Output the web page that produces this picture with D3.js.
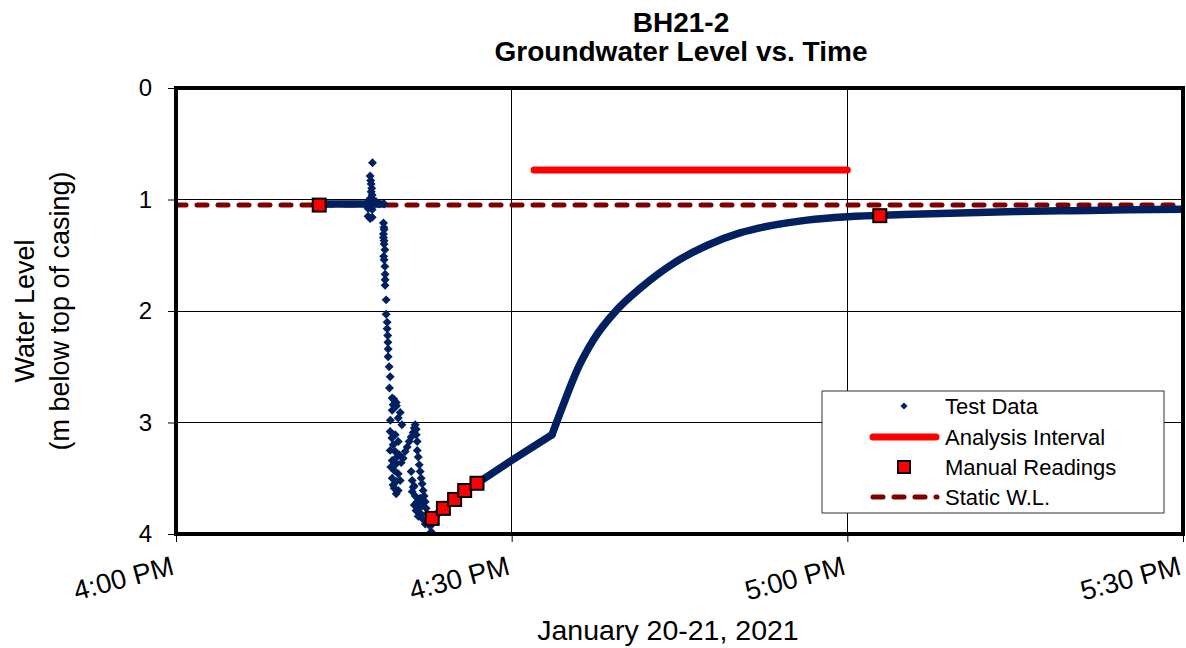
<!DOCTYPE html>
<html>
<head>
<meta charset="utf-8">
<script src="https://cdn.jsdelivr.net/npm/d3@7"></script>
<style>
  html, body { margin: 0; padding: 0; background: #fff; }
  svg { display: block; font-family: "Liberation Sans", Arial, sans-serif; }
</style>
</head>
<body>
<svg id="chart" width="1186" height="648"></svg>
<script>
// ---------------- DATA (minutes after 4:00 PM, water level in m below top of casing) ----------------
const chartTitle = ["BH21-2", "Groundwater Level vs. Time"];
const xAxisTitle = "January 20-21, 2021";
const yAxisTitle = ["Water Level", "(m below top of casing)"];
const yTicks = [0, 1, 2, 3, 4];
const xTickMinutes = [0, 30, 60, 90];

// Test Data: scattered logger readings during the pumping / disturbance phase
const testMinutes = [
  17.56,17.35,17.40,17.44,17.49,17.44,17.53,17.35,17.62,17.17,17.89,16.99,18.16,17.17,17.53,17.17,17.35,17.53,18.60,
  18.54,18.58,18.60,18.54,18.54,18.60,18.60,18.67,18.56,18.60,18.67,18.69,18.69,18.69,18.78,18.78,18.87,18.87,18.92,18.94,18.96,18.96,19.05,19.14,19.08,
  19.32,19.50,19.68,19.41,19.59,19.32,20.04,19.86,19.16,20.19,19.14,19.45,19.70,
  19.29,19.59,19.41,19.86,19.14,19.59,19.95,19.32,19.68,20.13,19.50,19.86,19.32,19.68,20.04,19.50,19.86,19.68,19.20,19.40,19.75,
  20.30,20.48,20.66,20.84,21.02,21.20,21.29,21.38,21.47,
  21.47,21.56,21.56,21.65,21.74,21.82,21.91,22.00,22.09,22.18,22.27,22.36,22.45,22.63,22.72,22.81,
  21.02,21.11,21.29,21.11,21.38,21.56,21.29,21.74,21.91,21.65,22.09,22.27,21.82,21.20,21.45,22.00
];
const testLevels = [
  0.67,0.79,0.83,0.86,0.90,0.93,0.96,0.99,1.00,1.02,1.02,1.05,1.04,1.08,1.09,1.15,1.17,1.16,1.04,
  1.21,1.25,1.27,1.31,1.34,1.37,1.40,1.45,1.51,1.54,1.60,1.67,1.72,1.77,1.90,2.03,2.10,2.16,2.22,2.28,2.34,2.41,2.50,2.59,2.69,
  2.78,2.80,2.82,2.84,2.86,2.89,2.91,2.96,2.98,3.02,3.08,2.79,2.85,
  3.14,3.11,3.20,3.17,3.25,3.26,3.29,3.34,3.37,3.36,3.43,3.46,3.50,3.53,3.52,3.59,3.61,3.64,3.40,3.56,3.31,
  3.32,3.26,3.22,3.17,3.13,3.09,3.05,3.02,3.06,
  3.11,3.17,3.25,3.31,3.38,3.44,3.50,3.55,3.61,3.66,3.71,3.77,3.82,3.87,3.93,3.98,
  3.44,3.52,3.57,3.62,3.66,3.71,3.74,3.77,3.82,3.84,3.87,3.91,3.68,3.58,3.79,3.74
];

// Test Data: dense logger traces (readings so close together they form a solid band)
const staticTraceMinutes = [12.8, 15.0, 17.0, 18.7];
const staticTraceLevels  = [1.04, 1.04, 1.04, 1.04];
const drawdownMinutes = [22.9, 23.9, 24.9, 25.8, 26.9, 30.0, 33.6];
const drawdownLevels  = [3.86, 3.77, 3.69, 3.61, 3.545, 3.34, 3.11];
const recoveryMinutes = [33.6, 34.65, 35.85, 37.3, 39.4, 41.5, 44.5, 47.5, 50.4, 53.4, 56.4, 60.0, 65.0, 70.0, 75.0, 80.0, 85.0, 90.0];
const recoveryLevels  = [3.11, 2.83, 2.53, 2.26, 1.99, 1.795, 1.57, 1.41, 1.30, 1.23, 1.185, 1.155, 1.135, 1.12, 1.108, 1.10, 1.093, 1.088];

// Manual Readings
const manualMinutes = [12.8, 22.9, 23.9, 24.9, 25.8, 26.9, 62.9];
const manualLevels  = [1.05, 3.86, 3.77, 3.69, 3.61, 3.545, 1.145];

// Analysis Interval
const analysisMinutes = [32.0, 60.0];
const analysisLevel = 0.735;

// Static W.L.
const staticLevel = 1.05;

const legendLabels = ["Test Data", "Analysis Interval", "Manual Readings", "Static W.L."];

// ---------------- CHART ----------------
const base = new Date(2021, 0, 20, 16, 0, 0);
const toDate = m => new Date(base.getTime() + m * 60000);

const svg = d3.select("#chart");
const L = 176, R = 1183, T = 88, B = 534;

const x = d3.scaleTime().domain([toDate(0), toDate(90)]).range([L, R]);
const y = d3.scaleLinear().domain([0, 4]).range([T, B]);

const navy = "#002060", red = "#ff0000", maroon = "#800000";

// Grid
const grid = svg.append("g");
grid.selectAll("line.h").data(yTicks.slice(1, -1)).join("line")
  .attr("x1", L).attr("x2", R).attr("y1", d => y(d)).attr("y2", d => y(d))
  .attr("stroke", "#000").attr("stroke-width", 1).attr("shape-rendering", "crispEdges");
grid.selectAll("line.v").data(xTickMinutes.slice(1, -1)).join("line")
  .attr("x1", d => x(toDate(d))).attr("x2", d => x(toDate(d))).attr("y1", T).attr("y2", B)
  .attr("stroke", "#000").attr("stroke-width", 1).attr("shape-rendering", "crispEdges");

// Clip
svg.append("clipPath").attr("id", "plotclip").append("rect")
  .attr("x", L).attr("y", T).attr("width", R - L).attr("height", B - T);
const plot = svg.append("g").attr("clip-path", "url(#plotclip)");

// Static W.L.
plot.append("line")
  .attr("x1", L).attr("x2", R).attr("y1", y(staticLevel)).attr("y2", y(staticLevel))
  .attr("stroke", maroon).attr("stroke-width", 5).attr("stroke-linecap", "round")
  .attr("stroke-dasharray", "10,11");

// Analysis interval
plot.append("line")
  .attr("x1", x(toDate(analysisMinutes[0]))).attr("x2", x(toDate(analysisMinutes[1])))
  .attr("y1", y(analysisLevel)).attr("y2", y(analysisLevel))
  .attr("stroke", red).attr("stroke-width", 7).attr("stroke-linecap", "round");

// Test data dense traces
const pairs = (a, b) => a.map((m, i) => [m, b[i]]);
const lineLin = d3.line().x(d => x(toDate(d[0]))).y(d => y(d[1]));
const lineSmooth = d3.line().x(d => x(toDate(d[0]))).y(d => y(d[1])).curve(d3.curveMonotoneX);
plot.append("path")
  .attr("d", lineLin(pairs(staticTraceMinutes, staticTraceLevels)))
  .attr("fill", "none").attr("stroke", navy).attr("stroke-width", 7.5);
plot.append("path")
  .attr("d", lineLin(pairs(drawdownMinutes, drawdownLevels)))
  .attr("fill", "none").attr("stroke", navy).attr("stroke-width", 7.5)
  .attr("stroke-linejoin", "round").attr("stroke-linecap", "round");
plot.append("path")
  .attr("d", lineSmooth(pairs(recoveryMinutes, recoveryLevels)))
  .attr("fill", "none").attr("stroke", navy).attr("stroke-width", 7.5)
  .attr("stroke-linejoin", "round").attr("stroke-linecap", "round");

// Test data scattered points (diamonds)
const diamond = d3.symbol().type(d3.symbolSquare).size(40);
plot.selectAll("path.td").data(pairs(testMinutes, testLevels)).join("path")
  .attr("d", diamond)
  .attr("transform", d => `translate(${x(toDate(d[0]))},${y(d[1])}) rotate(45)`)
  .attr("fill", navy);

// Manual readings
svg.selectAll("rect.mr").data(pairs(manualMinutes, manualLevels)).join("rect")
  .attr("x", d => x(toDate(d[0])) - 6.5).attr("y", d => y(d[1]) - 6.5)
  .attr("width", 13).attr("height", 13)
  .attr("fill", red).attr("stroke", "#000").attr("stroke-width", 2);

// Frame
svg.append("rect").attr("x", L).attr("y", T).attr("width", R - L).attr("height", B - T)
  .attr("fill", "none").attr("stroke", "#000").attr("stroke-width", 4);

// Y axis
const yAxis = svg.append("g").attr("transform", `translate(${L},0)`)
  .call(d3.axisLeft(y).tickValues(yTicks).tickFormat(d3.format("d")).tickSize(8).tickPadding(16));
yAxis.select(".domain").remove();
yAxis.selectAll("line").attr("stroke", "#000");
yAxis.selectAll("text").attr("font-size", 24).attr("fill", "#000")
  .attr("font-family", "Liberation Sans, Arial, sans-serif");

// X axis
const fmt = d3.timeFormat("%-I:%M %p");
const xAxis = svg.append("g").attr("transform", `translate(0,${B})`)
  .call(d3.axisBottom(x).tickValues(xTickMinutes.map(toDate)).tickFormat(fmt).tickSize(8));
xAxis.select(".domain").remove();
xAxis.selectAll("line").attr("stroke", "#000");
xAxis.selectAll("text")
  .attr("x", 0).attr("y", 0).attr("dy", 0)
  .attr("transform", "translate(-1,40) rotate(-15)")
  .style("text-anchor", "end")
  .attr("font-size", 27.5).attr("fill", "#000")
  .attr("font-family", "Liberation Sans, Arial, sans-serif");

// Titles
svg.append("text").attr("x", 681).attr("y", 32).attr("text-anchor", "middle")
  .attr("font-size", 28).attr("font-weight", "bold").text(chartTitle[0]);
svg.append("text").attr("x", 681).attr("y", 61).attr("text-anchor", "middle")
  .attr("font-size", 28).attr("font-weight", "bold").text(chartTitle[1]);

svg.append("text").attr("x", 668).attr("y", 640).attr("text-anchor", "middle")
  .attr("font-size", 28.5).text(xAxisTitle);

svg.append("text").attr("transform", "translate(34,311) rotate(-90)").attr("text-anchor", "middle")
  .attr("font-size", 27).text(yAxisTitle[0]);
svg.append("text").attr("transform", "translate(69,311) rotate(-90)").attr("text-anchor", "middle")
  .attr("font-size", 27).text(yAxisTitle[1]);

// Legend
const lg = svg.append("g");
lg.append("rect").attr("x", 822).attr("y", 391).attr("width", 342).attr("height", 122)
  .attr("fill", "#fff").attr("stroke", "#333").attr("stroke-width", 1);
const rowY = [406, 437, 467, 497];
lg.append("path").attr("d", d3.symbol().type(d3.symbolSquare).size(26))
  .attr("transform", `translate(904,${rowY[0]}) rotate(45)`).attr("fill", navy);
lg.append("line").attr("x1", 873).attr("x2", 936).attr("y1", rowY[1]).attr("y2", rowY[1])
  .attr("stroke", red).attr("stroke-width", 7).attr("stroke-linecap", "round");
lg.append("rect").attr("x", 898).attr("y", rowY[2] - 6).attr("width", 12).attr("height", 12)
  .attr("fill", red).attr("stroke", "#000").attr("stroke-width", 2);
lg.append("line").attr("x1", 873).attr("x2", 937).attr("y1", rowY[3]).attr("y2", rowY[3])
  .attr("stroke", maroon).attr("stroke-width", 5).attr("stroke-linecap", "round")
  .attr("stroke-dasharray", "10,11");
lg.selectAll("text").data(legendLabels).join("text")
  .attr("x", 945).attr("y", (d, i) => rowY[i]).attr("dy", "0.35em")
  .attr("font-size", 22).attr("fill", "#000").text(d => d);
</script>
</body>
</html>
